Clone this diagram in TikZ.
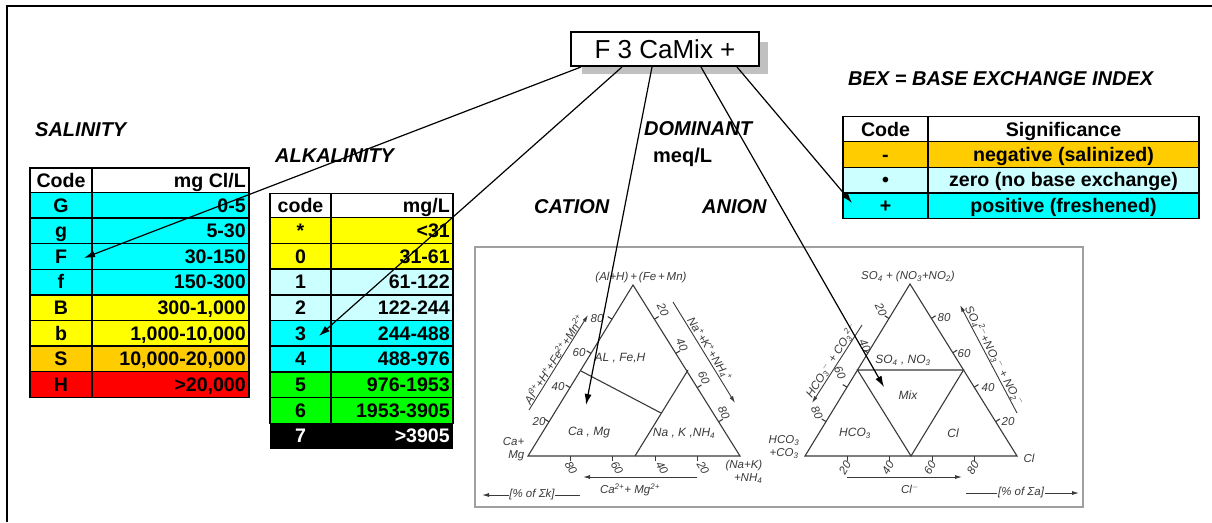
\documentclass[tikz,border=0pt]{standalone}
\usepackage{fontspec}
\setmainfont{Liberation Sans}
\usetikzlibrary{arrows.meta,calc}
\definecolor{cyanc}{HTML}{00FFFF}
\definecolor{yel}{HTML}{FFFF00}
\definecolor{ltc}{HTML}{CCFFFF}
\definecolor{orc}{HTML}{FFCC00}
\definecolor{redc}{HTML}{FF0000}
\definecolor{grn}{HTML}{00FF00}
\definecolor{hg}{HTML}{3A3A3A}
\definecolor{shd}{HTML}{C0C0C0}
\newcommand\tsb[1]{\textsubscript{#1}}
\newcommand\tsp[1]{\textsuperscript{#1}}
\tikzset{
  tc/.style={font=\bfseries\fontsize{19.6}{19.6}\selectfont, inner sep=0pt},
  tbl/.style={draw=black, line width=1.5pt},
  lbl/.style={font=\bfseries\itshape\fontsize{20}{20}\selectfont, inner sep=0pt},
  hand/.style={font=\itshape\fontsize{11.5}{13}\selectfont, text=hg, inner sep=0.5pt},
  inl/.style={font=\itshape\fontsize{12}{13}\selectfont, text=hg, inner sep=0.5pt},
  conn/.style={line width=1.2pt, -{Latex[length=11pt,width=7pt]}},
  tri/.style={draw=hg, line width=1.1pt},
  harr/.style={draw=hg, line width=0.9pt, -{Latex[length=7pt,width=4pt]}},
}
\begin{document}
\begin{tikzpicture}[x=1pt,y=-1pt]
\useasboundingbox (0,0) rectangle (1212,522);
\fill[white] (0,0) rectangle (1212,522);
% outer frame
\draw[line width=2pt] (7,522) -- (7,6) -- (1212,6);

% ---------- title ----------
\fill[shd] (582,42) rectangle (768,74);
\node[draw, fill=white, line width=2pt, minimum width=188pt, minimum height=34pt, inner sep=0pt,
      font=\fontsize{26}{26}\selectfont] (title) at (665,49) {F 3 CaMix +};

% ---------- labels ----------
\node[lbl, anchor=base west] (lsal) at (35,136) {SALINITY};
\node[lbl, anchor=base west] (lalk) at (275,162) {ALKALINITY};
\node[lbl, anchor=base west] (ldom) at (644,135) {DOMINANT};
\node[font=\bfseries\fontsize{20}{20}\selectfont, inner sep=0pt, anchor=base west] (lmeq) at (653,162) {meq/L};
\node[lbl, anchor=base west] (lcat) at (534,213) {CATION};
\node[lbl, anchor=base west] (lani) at (702,213) {ANION};
\node[lbl, anchor=base west] (lbex) at (848,85) {BEX = BASE EXCHANGE INDEX};

% ---------- salinity table ----------
\draw[tbl] (30,168) rectangle (249,192.5);
\draw[tbl] (92,168) -- (92,192.5);
\node[tc, anchor=base] (shc) at (61,187) {Code};
\node[tc, anchor=base east] (shv) at (246,187) {mg Cl/L};
\foreach \i/\c/\v/\col in {0/G/0-5/cyanc,1/g/5-30/cyanc,2/F/30-150/cyanc,3/f/150-300/cyanc,
  4/B/{300-1,000}/yel,5/b/{1,000-10,000}/yel,6/S/{10,000-20,000}/orc,7/H/{>20,000}/redc}{
  \pgfmathsetmacro\yt{192.5+\i*25.6}
  \pgfmathsetmacro\yb{\yt+25.6}
  \fill[\col] (30,\yt) rectangle (249,\yb);
  \draw[tbl] (30,\yt) rectangle (249,\yb);
  \draw[tbl] (92,\yt) -- (92,\yb);
  \node[tc, anchor=base] (sc\i) at (61,{\yt+19.6}) {\c};
  \node[tc, anchor=base east] (sv\i) at (246,{\yt+19.6}) {\v};
}

% ---------- alkalinity table ----------
\draw[tbl] (270,193.3) rectangle (453,217.7);
\draw[tbl] (331,193.3) -- (331,217.7);
\node[tc, anchor=base] (ahc) at (300.5,212) {code};
\node[tc, anchor=base east] (ahv) at (450,212) {mg/L};
\foreach \i/\c/\v/\col in {0/*/{<31}/yel,1/0/31-61/yel,2/1/61-122/ltc,3/2/122-244/ltc,
  4/3/244-488/cyanc,5/4/488-976/cyanc,6/5/976-1953/grn,7/6/1953-3905/grn}{
  \pgfmathsetmacro\yt{217.7+\i*25.7}
  \pgfmathsetmacro\yb{\yt+25.7}
  \fill[\col] (270,\yt) rectangle (453,\yb);
  \draw[tbl] (270,\yt) rectangle (453,\yb);
  \draw[tbl] (331,\yt) -- (331,\yb);
  \node[tc, anchor=base] (ac\i) at (300.5,{\yt+19.6}) {\c};
  \node[tc, anchor=base east] (av\i) at (450,{\yt+19.6}) {\v};
}
\fill[black] (270,423.3) rectangle (453,449.3);
\node[tc, anchor=base, text=white] (ac8) at (300.5,442.9) {7};
\node[tc, anchor=base east, text=white] (av8) at (450,442.9) {>3905};

% ---------- BEX table ----------
\draw[tbl] (843,116.7) rectangle (1199,141.7);
\draw[tbl] (928,116.7) -- (928,141.7);
\node[tc, anchor=base] (bhc) at (885.5,136) {Code};
\node[tc, anchor=base] (bhv) at (1063.5,136) {Significance};
\foreach \i/\c/\v/\col in {0/-/negative (salinized)/orc,1/•/zero (no base exchange)/ltc,2/+/positive (freshened)/cyanc}{
  \pgfmathsetmacro\yt{141.7+\i*25.55}
  \pgfmathsetmacro\yb{\yt+25.55}
  \fill[\col] (843,\yt) rectangle (1199,\yb);
  \draw[tbl] (843,\yt) rectangle (1199,\yb);
  \draw[tbl] (928,\yt) -- (928,\yb);
  \node[tc, anchor=base] (bc\i) at (885.5,{\yt+19.4}) {\c};
  \node[tc, anchor=base] (bv\i) at (1063.5,{\yt+19.4}) {\v};
}

% ---------- triangle figure ----------
\draw[draw=gray!75, line width=1.6pt] (475,247) rectangle (1083,507);

% cation triangle
\coordinate (cA) at (633,285);
\coordinate (cL) at (528,456);
\coordinate (cR) at (740,456);
\draw[tri] (cL) -- (cA) -- (cR) -- cycle;
\draw[tri] (581,371) -- (661,413);
\draw[tri] (688,370) -- (635,456);
\foreach \f in {0.2,0.4,0.6,0.8}{
  \draw[tri] ($(cL)!\f!(cA)$) -- ($(cL)!\f!(cA)!5pt!90:(cA)$);
  \draw[tri] ($(cA)!\f!(cR)$) -- ($(cA)!\f!(cR)!5pt!90:(cR)$);
  \draw[tri] ($(cR)!\f!(cL)$) -- ($(cR)!\f!(cL)!5pt!90:(cL)$);
}
\node[hand] (cap) at (641,278) {(Al+H)\,+\,(Fe\,+\,Mn)};
\node[inl] (c1) at (620,358) {AL , Fe,H};
\node[inl] (c2) at (589,433) {Ca , Mg};
\node[inl] (c3) at (684,433) {Na , K ,NH\tsb{4}};
\node[hand] at (597,319) {80};
\node[hand] at (579,353) {60};
\node[hand] at (558,387) {40};
\node[hand] at (539,422) {20};
\node[hand, rotate=-65] at (663,310) {20};
\node[hand, rotate=-65] at (682,345) {40};
\node[hand, rotate=-65] at (704,378) {60};
\node[hand, rotate=-65] at (724,413) {80};
\node[hand, rotate=-60] at (571,468) {80};
\node[hand, rotate=-60] at (617,468) {60};
\node[hand, rotate=-60] at (662,468) {40};
\node[hand, rotate=-60] at (703,468) {20};
\node[hand, anchor=east, align=right] at (525,449) {Ca+\\Mg};
\node[hand, anchor=east, align=right] at (763,472) {(Na+K)\\+NH\tsb{4}};
\coordinate (cl1) at (529,410); \coordinate (cl2) at (588,315);
\draw[harr] (cl1) -- (cl2);
\node[hand, rotate=58, anchor=south] at ($(cl1)!0.5!(cl2)$) {Al\tsp{3+}+H\tsp{+}+Fe\tsp{2+}+Mn\tsp{2+}};
\coordinate (cr1) at (673,302); \coordinate (cr2) at (735,403);
\draw[harr] (cr1) -- (cr2);
\node[hand, rotate=-58, anchor=south] at ($(cr1)!0.5!(cr2)$) {Na\tsp{+}+K\tsp{+}+NH\tsb{4}\tsp{+}};
\coordinate (cb1) at (697,477); \coordinate (cb2) at (583,477);
\draw[harr] (cb1) -- (cb2);
\node[hand] at (630,490) {Ca\tsp{2+}+ Mg\tsp{2+}};
\node[hand] (pk) at (532,495) {[\% of Σk]};
\draw[harr] (pk.west) -- (482,495);
\draw[draw=hg, line width=0.9pt] (pk.east) -- (580,495);

% anion triangle
\coordinate (aA) at (910,284);
\coordinate (aL) at (805,456);
\coordinate (aR) at (1017,456);
\draw[tri] (aL) -- (aA) -- (aR) -- cycle;
\draw[tri] ($(aL)!0.5!(aA)$) -- ($(aA)!0.5!(aR)$) -- ($(aL)!0.5!(aR)$) -- cycle;
\foreach \f in {0.2,0.4,0.6,0.8}{
  \draw[tri] ($(aL)!\f!(aA)$) -- ($(aL)!\f!(aA)!5pt!90:(aA)$);
  \draw[tri] ($(aA)!\f!(aR)$) -- ($(aA)!\f!(aR)!5pt!90:(aR)$);
  \draw[tri] ($(aR)!\f!(aL)$) -- ($(aR)!\f!(aL)!5pt!90:(aL)$);
}
\node[hand] (aap) at (908,277) {SO\tsb{4} + (NO\tsb{3}+NO\tsb{2})};
\node[inl] (a1) at (903,360) {SO\tsb{4} , NO\tsb{3}};
\node[inl] (a2) at (908,395) {Mix};
\node[inl] (a3) at (855,433) {HCO\tsb{3}};
\node[inl] (a4) at (953,433) {Cl};
\node[hand, rotate=-65] at (881,310) {20};
\node[hand, rotate=-65] at (865,346) {40};
\node[hand, rotate=-65] at (840,373) {60};
\node[hand, rotate=-65] at (817,413) {80};
\node[hand] at (944,318) {80};
\node[hand] at (964,354) {60};
\node[hand] at (988,388) {40};
\node[hand] at (1008,422) {20};
\node[hand, rotate=60] at (845,468) {20};
\node[hand, rotate=60] at (888,468) {40};
\node[hand, rotate=60] at (930,468) {60};
\node[hand, rotate=60] at (973,468) {80};
\node[hand, align=center] at (784,447) {HCO\tsb{3}\\+CO\tsb{3}};
\node[hand] at (1029,458) {Cl};
\coordinate (al1) at (862,325); \coordinate (al2) at (812,403);
\draw[harr] (al1) -- (al2);
\node[hand, rotate=57, anchor=south] at ($(al1)!0.5!(al2)$) {HCO\tsb{3}\tsp{$-$} + CO\tsb{3}\tsp{2$-$}};
\coordinate (ar1) at (1017,413); \coordinate (ar2) at (960,305);
\draw[harr] (ar1) -- (ar2);
\node[hand, rotate=-62, anchor=south] at ($(ar1)!0.5!(ar2)$) {SO\tsb{4}\tsp{2$-$}+NO\tsb{3}\tsp{$-$} + NO\tsb{2}\tsp{$-$}};
\coordinate (ab1) at (847,477); \coordinate (ab2) at (962,477);
\draw[harr] (ab1) -- (ab2);
\node[hand] at (910,489) {Cl\tsp{$-$}};
\node[hand] (pa) at (1021,493) {[\% of Σa]};
\draw[draw=hg, line width=0.9pt] (pa.west) -- (966,493);
\draw[harr] (pa.east) -- (1079,493);

% ---------- connectors ----------
\coordinate (tS) at (84,258);
\coordinate (tA) at (319,336);
\coordinate (tC) at (586,405);
\coordinate (tN) at (884,387);
\coordinate (tB) at (852,203);
\draw[conn] ([xshift=11pt]title.south west) -- (tS);
\draw[conn] ([xshift=52pt]title.south west) -- (tA);
\draw[conn] ([xshift=82pt]title.south west) -- (tC);
\draw[conn] ([xshift=131pt]title.south west) -- (tN);
\draw[conn] ([xshift=167pt]title.south west) -- (tB);
\end{tikzpicture}
\end{document}
